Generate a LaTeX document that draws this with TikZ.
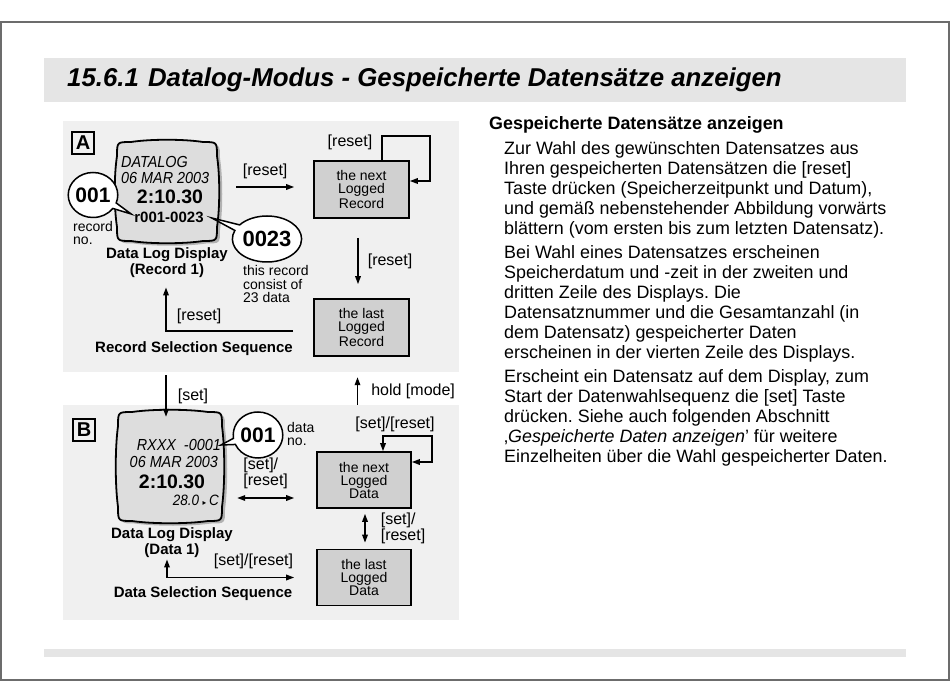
\documentclass[tikz,border=0pt]{standalone}
\usepackage{fontspec}
\setmainfont{Liberation Sans}
\newfontfamily\symfont{DejaVu Sans}
\newfontfamily\titlefont{Liberation Sans}
\usepackage{graphicx}
\usetikzlibrary{arrows.meta,positioning,shapes.callouts}
\frenchspacing

\newcommand{\fsz}[2]{\fontsize{#1}{#2}\selectfont}
\newcommand{\narrow}[1]{\scalebox{0.9}[1]{#1}}

% display outline round a node: name, half width, half height
\newcommand{\lcdoutline}[3]{%
  \begin{scope}[shift={(#1.center)}]
    \fill[gray!60] [shift={(3,2.5)}]
      (-#2+14,-#3) .. controls (-#2/3,-#3-3) and (#2/3,-#3-3) .. (#2-14,-#3)
      .. controls (#2,-#3) .. (#2,-#3+14)
      .. controls (#2+3,-#3/3) and (#2+3,#3/3) .. (#2,#3-14)
      .. controls (#2,#3) .. (#2-14,#3)
      .. controls (#2/3,#3+3) and (-#2/3,#3+3) .. (-#2+14,#3)
      .. controls (-#2,#3) .. (-#2,#3-14)
      .. controls (-#2-3,#3/3) and (-#2-3,-#3/3) .. (-#2,-#3+14)
      .. controls (-#2,-#3) .. cycle;
    \draw[line width=1.8pt, fill=gray!27]
      (-#2+14,-#3) .. controls (-#2/3,-#3-3) and (#2/3,-#3-3) .. (#2-14,-#3)
      .. controls (#2,-#3) .. (#2,-#3+14)
      .. controls (#2+3,-#3/3) and (#2+3,#3/3) .. (#2,#3-14)
      .. controls (#2,#3) .. (#2-14,#3)
      .. controls (#2/3,#3+3) and (-#2/3,#3+3) .. (-#2+14,#3)
      .. controls (-#2,#3) .. (-#2,#3-14)
      .. controls (-#2-3,#3/3) and (-#2-3,-#3/3) .. (-#2,-#3+14)
      .. controls (-#2,-#3) .. cycle;
  \end{scope}}

\begin{document}
\begin{tikzpicture}[x=1pt,y=-1pt,
    panel/.style={fill=gray!12, inner sep=0pt, minimum width=396},
    keybox/.style={draw, line width=1.3pt, minimum size=22, inner sep=0pt, font=\bfseries\fsz{20}{20}},
    logbox/.style={draw, line width=1.6pt, fill=gray!37, minimum width=95, minimum height=57,
      align=center, inner sep=0pt, font=\fsz{14}{13}},
    lbl/.style={font=\fsz{16}{16}, inner sep=1pt, align=left},
    note/.style={font=\fsz{14}{13.3}, inner sep=0pt, align=left},
    dispcap/.style={font=\bfseries\fsz{15}{15.5}, inner sep=0pt, align=center},
    lcdit/.style={font=\itshape\fsz{16}{16}, inner sep=0pt},
    lcdbig/.style={font=\bfseries\fsz{19.5}{19.5}, inner sep=0pt},
    bubble/.style={ellipse callout, draw, line width=1.5pt, fill=white, inner sep=0pt,
      callout pointer arc=16, font=\bfseries\fsz{21}{21}},
    arr/.style={line width=1.6pt, -{Triangle[length=8pt,width=5.5pt]}},
    arrb/.style={line width=1.6pt, {Triangle[length=8pt,width=5.5pt]}-{Triangle[length=8pt,width=5.5pt]}}]

  \useasboundingbox (0,0) rectangle (950,700);
  \fill[white] (0,0) rectangle (950,700);
  \draw[gray!85!black, line width=1.5pt] (1,22) rectangle (949,680);

  % title band
  \fill[gray!20] (44,58) rectangle (906,102);
  \node[anchor=base west, inner sep=0pt, font=\titlefont\bfseries\itshape\fsz{25.8}{26}] (title) at (67,87)
    {15.6.1\hspace{2pt} Datalog-Modus - Gespeicherte Datensätze anzeigen};
  \fill[gray!20] (44,649) rectangle (906,657);

  % right column
  \node[anchor=base west, inner sep=0pt, font=\bfseries\fsz{17.9}{20}] (head) at (489,129.3)
    {Gespeicherte Datensätze anzeigen};
  \node[anchor=north west, inner sep=0pt, align=left, font=\fsz{17.9}{20.1}] (body) at (504,141)
    {Zur Wahl des gewünschten Datensatzes aus\\
     Ihren gespeicherten Datensätzen die [reset]\\
     Taste drücken (Speicherzeitpunkt und Datum),\\
     und gemäß nebenstehender Abbildung vorwärts\\
     blättern (vom ersten bis zum letzten Datensatz).\\[3.6pt]
     Bei Wahl eines Datensatzes erscheinen\\
     Speicherdatum und -zeit in der zweiten und\\
     dritten Zeile des Displays. Die\\
     Datensatznummer und die Gesamtanzahl (in\\
     dem Datensatz) gespeicherter Daten\\
     erscheinen in der vierten Zeile des Displays.\\[3.6pt]
     Erscheint ein Datensatz auf dem Display, zum\\
     Start der Datenwahlsequenz die [set] Taste\\
     drücken. Siehe auch folgenden Abschnitt\\
     ‚\textit{Gespeicherte Daten anzeigen}' für weitere\\
     Einzelheiten über die Wahl gespeicherter Daten.};

  % panels
  \node[panel, minimum height=251] (panA) at (261,246.5) {};
  \node[panel, minimum height=215] (panB) at (261,512.5) {};
  \node[keybox] (keyA) at (83,143) {A};
  \node[keybox] (keyB) at (84,430) {B};

  % record display
  \node[minimum width=100, minimum height=99, inner sep=0pt] (dispA) at (167,191.5) {};
  \lcdoutline{dispA}{50}{49.5}
  \node[lcdit, anchor=west] (dA1) at (121,162) {\narrow{DATALOG}};
  \node[lcdit, anchor=west] (dA2) at (121,178) {\narrow{06 MAR 2003}};
  \node[lcdbig] (dA3) at (170,197) {2:10.30};
  \node[font=\bfseries\fsz{15}{15}, inner sep=0pt] (dA4) at (169,217) {r001-0023};
  \node[bubble, minimum width=41, minimum height=45,
    callout absolute pointer={([shift={(-3pt,3pt)}]dA4.west)}] (cA1) at (93,195) {001};
  \node[bubble, minimum width=62, minimum height=46, font=\bfseries\fsz{22}{22},
    callout absolute pointer={([xshift=8pt,yshift=-1pt]dA4.east)}] (cA2) at (267,239) {0023};
  \node[note, anchor=west] (recno) at (73,233) {record\\no.};
  \node[note, anchor=west] (consist) at (243,284) {this record\\consist of\\23 data};
  \node[dispcap] (dlA) at (167,262.5) {Data Log Display\\(Record 1)};
  \node[dispcap] (rssA) at (194,349) {Record Selection Sequence};

  \node[logbox] (nextR) at (361.5,189.5) {the next\\Logged\\Record};
  \node[logbox] (lastR) at (361.5,327.5) {the last\\Logged\\Record};

  \draw[arr] ([shift={(19pt,4.5pt)}]dispA.east) -- ([shift={(-19pt,2.5pt)}]nextR.west)
    node[midway, above=6pt, lbl] {[reset]};
  \draw[arr] ([xshift=20.5pt]nextR.north) -- ++(0,-24) node[pos=0.75, left=8pt, lbl] {[reset]}
    -| ([shift={(20pt,8.5pt)}]nextR.east) -- ([yshift=8.5pt]nextR.east);
  \draw[arr] ([shift={(-3.5pt,-19pt)}]nextR.south) -- ([shift={(-3.5pt,14pt)}]lastR.north)
    node[midway, right=8pt, lbl] {[reset]};
  \draw[arr] ([shift={(-20pt,-3.5pt)}]lastR.west) -| ([shift={(-1pt,-10pt)}]dlA.south)
    node[pos=0.37, above=5pt, lbl] {[reset]};

  % data display
  \node[minimum width=104, minimum height=109, inner sep=0pt] (dispB) at (170,466.5) {};
  \lcdoutline{dispB}{52}{54.5}
  \node[lcdit, anchor=east] (dB1) at (221,445) {\narrow{RXXX\ \ -0001}};
  \node[lcdit, anchor=east] (dB2) at (218,462) {\narrow{06 MAR 2003}};
  \node[lcdbig] (dB3) at (172,482) {2:10.30};
  \node[lcdit, anchor=east, font=\itshape\fsz{15}{15}] (dB4) at (219,500)
    {\narrow{28.0\hspace{4pt}{\symfont\fsz{8}{8}▸}\hspace{3pt}C}};
  \node[bubble, minimum width=46, minimum height=46, callout absolute pointer={(dB1.east)}] (cB1) at (258,435) {001};
  \node[note, anchor=west] (datano) at (287,434) {data\\no.};
  \node[dispcap] (dlB) at (172,542.5) {Data Log Display\\(Data 1)};
  \node[dispcap] (dssB) at (203,594) {Data Selection Sequence};

  % between the panels
  \draw[arr] ([shift={(-95pt,-3pt)}]panA.south) -- ([shift={(-4pt,-5pt)}]dispB.north)
    node[midway, right=10pt, lbl] {[set]};
  \draw[arr] ([xshift=96.5pt]panB.north) -- ([shift={(96.5pt,-5pt)}]panA.south)
    node[midway, right=12pt, lbl] {hold [mode]};

  \node[logbox, minimum width=94, minimum height=56] (nextD) at (364,480) {the next\\Logged\\Data};
  \node[logbox, minimum width=94, minimum height=56] (lastD) at (364,577.5) {the last\\Logged\\Data};

  \draw[arrb] ([shift={(15pt,-31.5pt)}]dispB.east) -- ([shift={(-22pt,-18pt)}]nextD.west)
    node[midway, above=7pt, lbl] {[set]/\\{}[reset]};
  \draw[arrb] ([xshift=19pt]nextD.north) -- ++(0,-15)
    node[anchor=south, xshift=12pt, yshift=3pt, lbl] {[set]/[reset]}
    -| ([shift={(20pt,18pt)}]nextD.east) -- ([yshift=18pt]nextD.east);
  \draw[arrb] ([shift={(1pt,-5pt)}]nextD.south) -- ([shift={(1pt,6pt)}]lastD.north)
    node[midway, right=14pt, lbl] {[set]/\\{}[reset]};
  \draw[arrb] ([shift={(-5pt,-2pt)}]dlB.south) |- ([xshift=-22pt]lastD.west)
    node[pos=0.84, above=7pt, lbl] {[set]/[reset]};
\end{tikzpicture}
\end{document}
